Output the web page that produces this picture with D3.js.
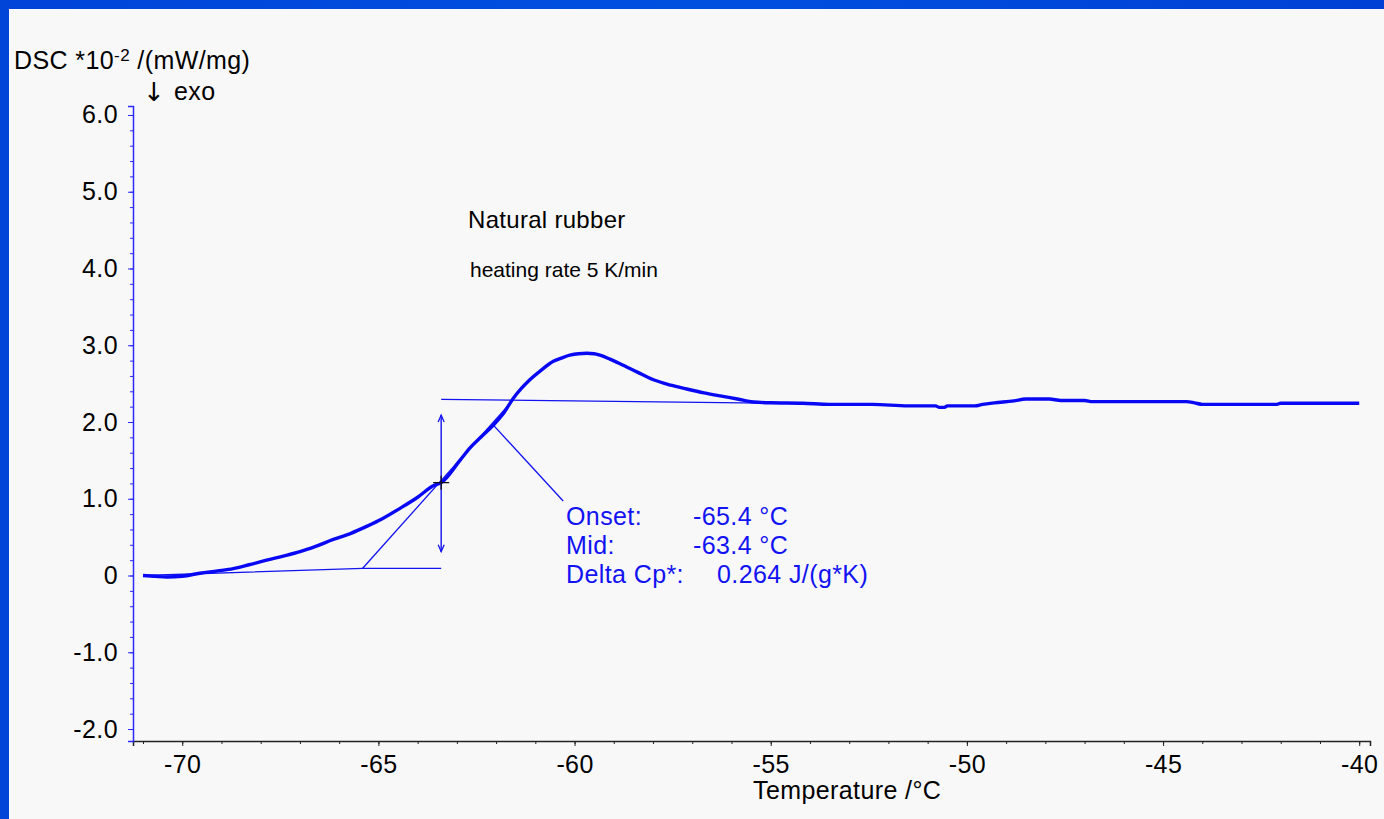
<!DOCTYPE html>
<html>
<head>
<meta charset="utf-8">
<script src="https://cdn.jsdelivr.net/npm/d3@7"></script>
<style>
  html, body { margin: 0; padding: 0; background: #f8f8f8; }
  svg { display: block; font-family: "Liberation Sans", Arial, sans-serif; }
</style>
</head>
<body>
<svg id="chart" width="1384" height="819"></svg>
<script>
// DSC heating scan of natural rubber around its glass transition
const temperature = [
  -71.0, -70.7, -70.4, -70.0, -69.55, -69.1, -68.7, -68.3, -67.85, -67.4,
  -67.0, -66.6, -66.15, -65.7, -65.3, -64.9, -64.45, -64.0, -63.6, -63.4,
  -62.92, -62.67, -62.37, -62.07, -61.8, -61.56, -61.35, -61.14, -60.84, -60.54,
  -60.3, -60.12, -59.9, -59.69, -59.5, -59.35, -59.1, -58.84, -58.4, -57.99,
  -57.55, -57.14, -56.7, -56.29, -55.85, -55.44, -55.0, -54.19, -53.5, -52.41,
  -51.5, -50.8, -50.7, -50.57, -50.5, -49.8, -49.6, -49.3, -48.8, -48.5,
  -47.9, -47.6, -47.0, -46.8, -44.4, -44.2, -44.0, -42.1, -42.0, -40.0
];
const dsc = [
  0.00, -0.01, -0.02, -0.01, 0.03, 0.06, 0.09, 0.14, 0.20, 0.255,
  0.31, 0.38, 0.47, 0.55, 0.64, 0.74, 0.875, 1.02, 1.17, 1.21,
  1.50, 1.66, 1.81, 1.96, 2.12, 2.31, 2.44, 2.55, 2.68, 2.79,
  2.84, 2.87, 2.89, 2.895, 2.89, 2.87, 2.82, 2.76, 2.65, 2.55,
  2.48, 2.43, 2.38, 2.34, 2.30, 2.26, 2.25, 2.245, 2.23, 2.23,
  2.21, 2.21, 2.19, 2.19, 2.21, 2.21, 2.23, 2.25, 2.275, 2.30,
  2.30, 2.28, 2.28, 2.265, 2.265, 2.25, 2.23, 2.23, 2.245, 2.245
];

// Axis ticks
const xMajorTicks = [-70, -65, -60, -55, -50, -45, -40];
const xMinorTicks = d3.range(-71, -39, 1);
const yMajorTicks = [-2, -1, 0, 1, 2, 3, 4, 5, 6];
const yMinorTicks = d3.range(-2, 6.01, 0.2).map(v => +v.toFixed(1));

// Glass transition evaluation
const onsetT = -65.4;
const midT = -63.4;
const deltaCp = 0.264;
const lowerBaseline = [[-71.0, 0.0], [onsetT, 0.094], [midT, 0.094]];
const upperBaseline = [[midT, 2.295], [-54.8, 2.245]];
const tangentLine = [[onsetT, 0.094], [-61.56, 2.29]];
const stepArrow = [[midT, 0.31], [midT, 2.09]];
const midPoint = [midT, 1.21];
const leaderLine = [[-62.07, 1.96], [-60.29, 0.97]];
const resultLabels = [
  ["Onset:", onsetT.toFixed(1) + " °C"],
  ["Mid:", midT.toFixed(1) + " °C"],
  ["Delta Cp*:", deltaCp.toFixed(3) + " J/(g*K)"]
];

const svg = d3.select("#chart");
const W = 1384, H = 819;
const blue = "#1212f2";
const FS = 25, LS = 0.4;

// frame
const defs = svg.append("defs");
const grad = defs.append("linearGradient").attr("id", "frameGrad")
  .attr("x1", "0").attr("x2", "1").attr("y1", "0").attr("y2", "0");
grad.append("stop").attr("offset", "0").attr("stop-color", "#0044d8");
grad.append("stop").attr("offset", "0.5").attr("stop-color", "#0050e0");
grad.append("stop").attr("offset", "1").attr("stop-color", "#0040d4");
svg.append("rect").attr("width", W).attr("height", H).attr("fill", "#f8f8f8");
svg.append("rect").attr("x", 0).attr("y", 0).attr("width", W).attr("height", 9).attr("fill", "url(#frameGrad)");
svg.append("rect").attr("x", 0).attr("y", 0).attr("width", 9).attr("height", H).attr("fill", "#0044d8");

// scales
const x = d3.scaleLinear().domain([-71.255, -39.725]).range([133, 1370]);
const y = d3.scaleLinear().domain([-2.156, 6.117]).range([741, 106]);

const styleLabels = g => g.selectAll("text").attr("fill", "#000").attr("font-size", FS)
  .attr("letter-spacing", LS).attr("font-family", "Liberation Sans, Arial, sans-serif");

// x axis (black) with minor ticks
const xAxisG = svg.append("g").attr("transform", `translate(0,${y.range()[0]})`);
xAxisG.append("g")
  .call(d3.axisBottom(x).tickValues(xMinorTicks).tickSize(3).tickFormat(""))
  .call(g => g.select(".domain").remove())
  .call(g => g.selectAll("line").attr("stroke", "#222"));
xAxisG.append("g")
  .call(d3.axisBottom(x).tickValues(xMajorTicks).tickSize(5).tickPadding(9).tickFormat(v => String(v)))
  .call(g => g.select(".domain").attr("stroke", "#222").attr("stroke-width", 1.5))
  .call(g => g.selectAll("line").attr("stroke", "#222"))
  .call(styleLabels);

// y axis (blue) with minor ticks
const yAxisG = svg.append("g").attr("transform", `translate(${x.range()[0]},0)`);
yAxisG.append("g")
  .call(d3.axisLeft(y).tickValues(yMinorTicks).tickSize(3).tickFormat(""))
  .call(g => g.select(".domain").remove())
  .call(g => g.selectAll("line").attr("stroke", "#2a2aff"));
yAxisG.append("g")
  .call(d3.axisLeft(y).tickValues(yMajorTicks).tickSize(5).tickPadding(10)
    .tickFormat(v => v === 0 ? "0" : v.toFixed(1)))
  .call(g => g.select(".domain").attr("stroke", "#2a2aff").attr("stroke-width", 1.5))
  .call(g => g.selectAll("line").attr("stroke", "#2a2aff"))
  .call(styleLabels);

// axis titles
const txt = (xp, yp, s, size = FS, ls = LS) => svg.append("text").attr("x", xp).attr("y", yp)
  .attr("font-size", size).attr("letter-spacing", ls).attr("fill", "#000").text(s);
const yTitle = svg.append("text").attr("x", 14).attr("y", 69).attr("font-size", FS)
  .attr("letter-spacing", LS).attr("fill", "#000");
yTitle.append("tspan").text("DSC *10");
yTitle.append("tspan").attr("font-size", 17).attr("dy", -8).text("-2");
yTitle.append("tspan").attr("dy", 8).text(" /(mW/mg)");
txt(143, 101, "↓", 26, 0).attr("font-family", "DejaVu Sans");
txt(174, 100, "exo");
txt(753, 799, "Temperature /°C");

// sample description
txt(468, 228, "Natural rubber", 24, 0.3);
txt(470, 277, "heating rate 5 K/min", 21, 0);

// evaluation construction lines
const seg = d3.line().x(d => x(d[0])).y(d => y(d[1]));
const thin = [lowerBaseline, upperBaseline, tangentLine, leaderLine];
svg.append("g").selectAll("path").data(thin).join("path")
  .attr("d", seg).attr("fill", "none").attr("stroke", blue).attr("stroke-width", 1.3);

// step height double arrow
const ax = x(stepArrow[0][0]), ay0 = y(stepArrow[0][1]), ay1 = y(stepArrow[1][1]);
svg.append("line").attr("x1", ax).attr("x2", ax).attr("y1", ay0).attr("y2", ay1)
  .attr("stroke", blue).attr("stroke-width", 1.4);
svg.append("path")
  .attr("d", `M${ax - 3},${ay1 + 7}L${ax},${ay1}L${ax + 3},${ay1 + 7}M${ax - 3},${ay0 - 7}L${ax},${ay0}L${ax + 3},${ay0 - 7}`)
  .attr("fill", "none").attr("stroke", blue).attr("stroke-width", 1.3);

// measured curve
const curve = d3.line().curve(d3.curveMonotoneX)
  .x((d, i) => x(temperature[i])).y((d, i) => y(dsc[i]));
svg.append("path").datum(dsc).attr("d", curve)
  .attr("fill", "none").attr("stroke", "#0808f4").attr("stroke-width", 3.4)
  .attr("stroke-linejoin", "round");

// midpoint cross
const mx = x(midPoint[0]), my = y(midPoint[1]);
svg.append("path").attr("d", `M${mx - 8},${my}H${mx + 8}M${mx},${my - 7}V${my + 7}`)
  .attr("stroke", "#111").attr("stroke-width", 1.3);

// results
const res = svg.append("g").attr("fill", blue).attr("font-size", FS).attr("letter-spacing", LS);
const valueX = [693, 693, 717];
resultLabels.forEach((r, i) => {
  const by = 525 + i * 29.2;
  res.append("text").attr("x", 566).attr("y", by).text(r[0]);
  res.append("text").attr("x", valueX[i]).attr("y", by).text(r[1]);
});
</script>
</body>
</html>
